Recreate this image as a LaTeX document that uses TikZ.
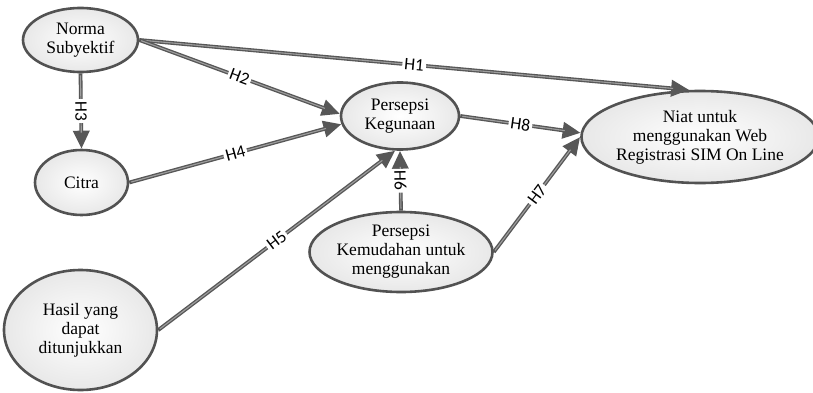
\documentclass[tikz,border=0pt]{standalone}
\usepackage{fontspec}
\setmainfont{Liberation Serif}
\newfontfamily\labelfont{Carlito}
\usetikzlibrary{shapes.geometric,arrows.meta}
\begin{document}
\begin{tikzpicture}[x=1pt,y=-1pt,
  ell/.style={ellipse, draw=black!68, line width=2.6pt, inner sep=0pt, align=center,
    font=\fontsize{17.5}{19}\selectfont, inner color=white, outer color=black!9},
  conn/.style={draw=black!66, line width=3.8pt, -{Triangle[length=18pt,width=16pt]},
    postaction={draw=black!38, line width=1.1pt, -, shorten >=16pt, shorten <=2pt}},
  lab/.style={fill=white, inner sep=2pt, font=\labelfont\fontsize{17.5}{17.5}\selectfont, sloped, midway}
]
\fill[white] (0,0) rectangle (813,393);
\useasboundingbox (0,0) rectangle (813,393);

\node[ell, minimum width=115pt, minimum height=64pt] (norma) at (80.5,40) {Norma\\Subyektif};
\node[ell, minimum width=93pt, minimum height=65pt] (citra) at (81.5,182.5) {Citra};
\node[ell, minimum width=153pt, minimum height=120pt] (hasil) at (80.5,330) {Hasil yang\\dapat\\ditunjukkan};
\node[ell, minimum width=118pt, minimum height=67pt] (keg) at (400,116) {Persepsi\\Kegunaan};
\node[ell, minimum width=224pt, minimum height=92pt] (niat) at (700,137) {Niat untuk\\menggunakan Web\\Registrasi SIM On Line};
\node[ell, minimum width=183pt, minimum height=80pt] (kem) at (401,252) {Persepsi\\Kemudahan untuk\\menggunakan};

\draw[conn] (norma.east) -- node[lab] {H1} (niat.103);
\draw[conn] (norma.east) -- node[lab] {H2} (keg.178);
\draw[conn] (norma.south) -- node[lab] {H3} (citra.north);
\draw[conn] (citra.east) -- node[lab] {H4} (keg.188);
\draw[conn] (hasil.east) -- node[lab] {H5} (keg.262);
\draw[conn] (kem.north) -- node[lab] {H6} (keg.south);
\draw[conn] (kem.east) -- node[lab] {H7} (niat.180);
\draw[conn] (keg.east) -- node[lab] {H8} (niat.178);
\end{tikzpicture}
\end{document}
